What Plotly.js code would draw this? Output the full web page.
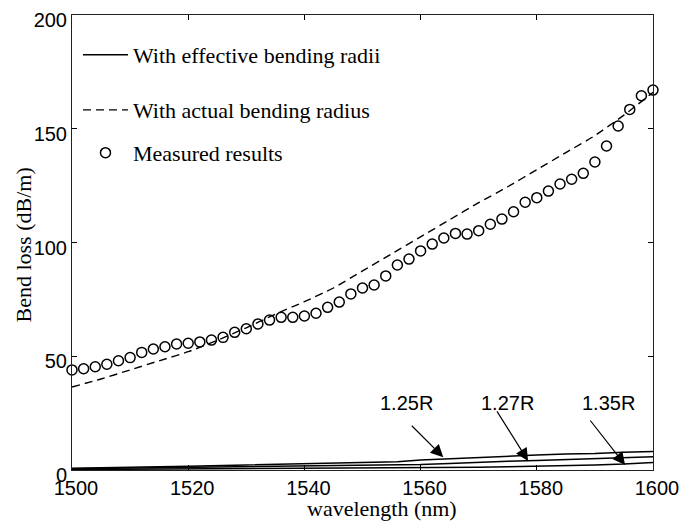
<!DOCTYPE html>
<html><head><meta charset="utf-8">
<script src="https://cdn.plot.ly/plotly-3.0.1.min.js"></script>
<style>html,body{margin:0;padding:0;background:#fff}#chart{width:685px;height:531px}</style>
</head><body><div id="chart"></div>
<script>
// Measured results (open circles)
const measuredWavelength = [1500,1502,1504,1506,1508,1510,1512,1514,1516,1518,1520,1522,1524,1526,1528,1530,1532,1534,1536,1538,1540,1542,1544,1546,1548,1550,1552,1554,1556,1558,1560,1562,1564,1566,1568,1570,1572,1574,1576,1578,1580,1582,1584,1586,1588,1590,1592,1594,1596,1598,1600];
const measuredLoss = [44.0,44.5,45.4,46.5,48.0,49.4,51.7,53.2,54.2,55.4,55.7,56.3,57.1,58.3,60.5,62.1,64.2,65.9,67.1,67.1,67.7,68.9,71.5,73.8,77.4,80.0,81.3,85.3,90.1,92.7,96.3,99.3,102.0,104.0,103.7,105.2,108.0,110.3,113.5,117.7,119.7,122.6,125.7,127.8,130.4,135.4,142.4,151.2,158.5,164.5,167.0];

// With actual bending radius (dashed)
const actualWavelength = [1500,1505,1510,1515,1520,1525,1530,1535,1540,1545,1550,1555,1560,1565,1570,1575,1580,1585,1590,1595,1600];
const actualLoss = [36.5,40,44,48,52,57,62.5,68.5,74,80,87.5,95,102.5,110,117.5,124.5,132,139.5,147,156,166];

// With effective bending radii (solid)
const effWavelength = [1500,1510,1520,1530,1540,1550,1556,1560,1565,1570,1575,1580,1585,1590,1595,1600];
const loss125R = [0.8,1.1,1.6,2.2,2.8,3.3,3.6,4.4,5.0,5.6,6.0,6.6,7.0,7.2,7.8,8.1];
const loss127R = [0.5,0.8,1.0,1.3,1.5,1.9,2.1,2.4,2.9,3.5,3.8,4.2,4.6,5.0,5.4,5.8];
const loss135R = [0.2,0.3,0.4,0.5,0.6,0.7,0.75,0.8,0.9,1.2,1.4,1.6,1.8,2.2,2.6,3.3];

const xTicks = [1500,1520,1540,1560,1580,1600];
const yTicks = [0,50,100,150,200];
const radiusLabels = ['1.25R','1.27R','1.35R'];
const legendNames = ['With effective bending radii','With actual bending radius','Measured results'];

const serif = 'Liberation Serif, Times New Roman, serif';
const sans = 'Liberation Sans, Arial, sans-serif';

const traces = [
  {x: effWavelength, y: loss125R, type:'scatter', mode:'lines', name: legendNames[0], legend:'legend',
   line:{color:'#000', width:1.5}, showlegend:true},
  {x: effWavelength, y: loss127R, type:'scatter', mode:'lines', name: radiusLabels[1],
   line:{color:'#000', width:1.5}, showlegend:false},
  {x: effWavelength, y: loss135R, type:'scatter', mode:'lines', name: radiusLabels[2],
   line:{color:'#000', width:1.5}, showlegend:false},
  {x: actualWavelength, y: actualLoss, type:'scatter', mode:'lines', name: legendNames[1], legend:'legend2',
   line:{color:'#000', width:1.4, dash:'8px,5px', shape:'spline', smoothing:0.6}},
  {x: measuredWavelength, y: measuredLoss, type:'scatter', mode:'markers', name: legendNames[2], legend:'legend3',
   cliponaxis:false,
   marker:{symbol:'circle-open', size:10, color:'#000', line:{width:1.5, color:'#000'}}}
];

const axisCommon = {
  showgrid:false, zeroline:false, showline:true, linecolor:'#222', linewidth:1,
  ticks:'inside', ticklen:5, tickwidth:1, tickcolor:'#000', mirror:'ticks',
  tickfont:{family:sans, size:20, color:'#000'}
};

const legendCommon = {
  xref:'paper', yref:'paper', xanchor:'left', yanchor:'middle',
  bgcolor:'rgba(0,0,0,0)', borderwidth:0, itemwidth:45,
  font:{family:serif, size:22, color:'#000'}
};

const arrowTips = [[1563.9,5.6,-33,-33],[1578.5,4.0,-32,-51],[1595.2,2.2,-36,-46]];
const labelPos = [[1557.6,29.5],[1575.0,29.5],[1592.3,29.5]];

const annotations = [
  {text:'wavelength (nm)', xref:'paper', yref:'paper', x:0.5336, y:-0.084, showarrow:false,
   font:{family:serif, size:22, color:'#000'}, xanchor:'center', yanchor:'middle'},
  {text:'Bend loss (dB/m)', xref:'paper', yref:'paper', x:-0.0835, y:0.4945, showarrow:false, textangle:-90,
   font:{family:serif, size:22, color:'#000'}, xanchor:'center', yanchor:'middle'}
];
radiusLabels.forEach((t,i)=>{
  annotations.push({text:t, x:labelPos[i][0], y:labelPos[i][1], xref:'x', yref:'y', showarrow:false,
    font:{family:sans, size:20, color:'#000'}, xanchor:'center', yanchor:'middle'});
  annotations.push({text:'', x:arrowTips[i][0], y:arrowTips[i][1], xref:'x', yref:'y', showarrow:true,
    ax:arrowTips[i][2], ay:arrowTips[i][3], arrowhead:2, arrowsize:2.1, arrowwidth:1.2, arrowcolor:'#000', standoff:0});
});

const layout = {
  width:685, height:531,
  margin:{l:72, r:32, t:15, b:61, autoexpand:false},
  paper_bgcolor:'#fff', plot_bgcolor:'#fff',
  xaxis: Object.assign({}, axisCommon, {range:[1500,1600], tickvals:xTicks, ticktext:xTicks.map(String), ticklabelshift:4}),
  yaxis: Object.assign({}, axisCommon, {range:[0,200], tickvals:yTicks, ticktext:yTicks.map(String), ticklabelshift:5}),
  legend: Object.assign({}, legendCommon, {x:0.0103, y:0.912}),
  legend2: Object.assign({}, legendCommon, {x:0.0103, y:0.791}),
  legend3: Object.assign({}, legendCommon, {x:0.0103, y:0.697}),
  annotations: annotations,
  showlegend:true
};

Plotly.newPlot('chart', traces, layout, {displayModeBar:false, staticPlot:true});
</script>
</body></html>
